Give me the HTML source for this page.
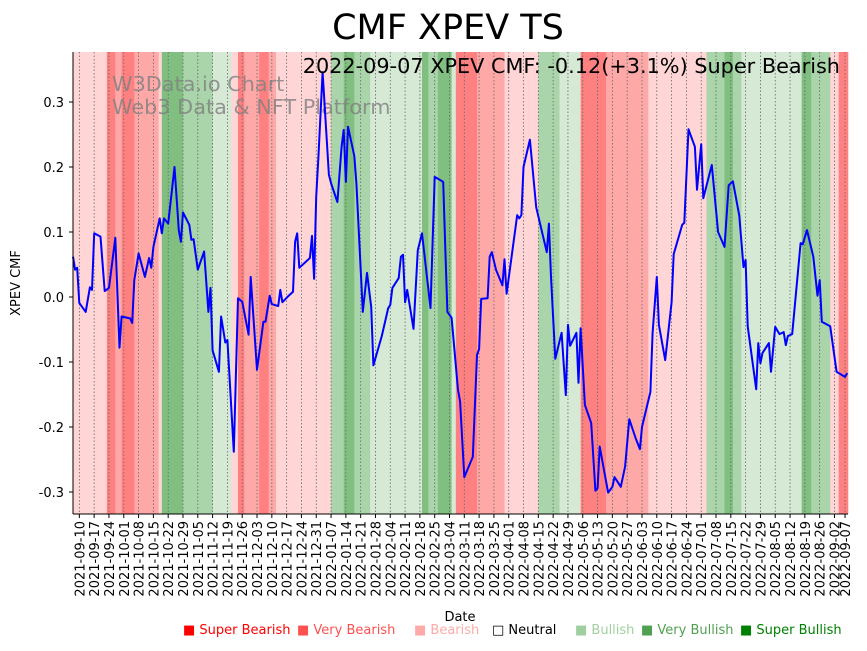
<!DOCTYPE html>
<html><head><meta charset="utf-8"><style>
body{margin:0;background:#fff;font-family:"Liberation Sans","DejaVu Sans",sans-serif;}
svg text{font-family:"DejaVu Sans","Liberation Sans",sans-serif;}
</style></head><body>
<svg id="c" width="867" height="646" xmlns="http://www.w3.org/2000/svg">
<g id="bands"></g>
<g id="grid"></g>
<text x="112" y="91" font-size="20.8" fill="#808080" fill-opacity="0.8">W3Data.io Chart</text>
<text x="112" y="114" font-size="20.8" fill="#808080" fill-opacity="0.8">Web3 Data &amp; NFT Platform</text>
<path id="line" fill="none" stroke="#0000ff" stroke-width="2" stroke-linejoin="round"/>
<text x="840" y="73" font-size="20.8" text-anchor="end" fill="#000">2022-09-07 XPEV CMF: -0.12(+3.1%) Super Bearish</text>
<text x="448" y="39" font-size="35" text-anchor="middle" fill="#000">CMF XPEV TS</text>
<line x1="73" y1="52" x2="73" y2="514" stroke="#000"/>
<line x1="73" y1="514" x2="848" y2="514" stroke="#000"/>
<g id="yt"></g>
<g id="xt"></g>
<text transform="translate(20,283) rotate(-90)" font-size="13" text-anchor="middle">XPEV CMF</text>
<text x="460" y="621" font-size="13" text-anchor="middle">Date</text>
<g id="legend"></g>
</svg>
<script>
const dayOffsets=[0,1,2,3,6,8,9,10,13,15,17,20,22,23,27,28,29,31,34,36,37,38,41,42,43,45,48,50,51,52,55,56,57,59,62,64,65,66,69,70,72,73,76,78,80,83,84,87,90,91,93,94,97,98,99,102,104,105,106,107,112,113,114,115,116,118,121,122,125,127,128,129,130,133,134,137,139,141,142,146,149,150,151,154,155,156,157,158,161,163,165,169,171,175,176,177,179,182,183,185,189,191,192,193,196,197,198,200,203,204,205,210,211,212,213,216,219,224,225,226,228,231,233,234,235,238,239,240,242,245,247,248,249,253,255,256,259,261,263,266,268,269,273,274,276,277,280,283,284,288,289,291,294,295,297,298,302,305,308,310,312,315,317,318,319,323,324,325,326,329,330,332,334,336,337,338,340,344,345,347,350,352,353,354,358,361,365,366];
const cmfValues=[0.062,0.042,0.045,-0.009,-0.023,0.015,0.011,0.098,0.093,0.009,0.014,0.091,-0.078,-0.03,-0.033,-0.04,0.026,0.067,0.031,0.06,0.045,0.077,0.121,0.098,0.121,0.113,0.2,0.103,0.085,0.13,0.111,0.088,0.089,0.042,0.07,-0.023,0.014,-0.082,-0.115,-0.03,-0.07,-0.066,-0.238,-0.002,-0.007,-0.058,0.031,-0.112,-0.038,-0.038,0.002,-0.011,-0.014,0.011,-0.008,0.002,0.008,0.085,0.098,0.045,0.06,0.094,0.028,0.154,0.215,0.346,0.188,0.175,0.146,0.231,0.257,0.177,0.262,0.217,0.175,-0.023,0.037,-0.015,-0.105,-0.06,-0.017,-0.012,0.014,0.029,0.062,0.065,-0.008,0.011,-0.049,0.072,0.098,-0.017,0.185,0.177,0.075,-0.023,-0.032,-0.143,-0.161,-0.277,-0.246,-0.089,-0.08,-0.003,-0.002,0.062,0.069,0.042,0.018,0.058,0.005,0.126,0.121,0.126,0.2,0.242,0.138,0.069,0.113,0.031,-0.095,-0.055,-0.151,-0.043,-0.075,-0.055,-0.132,-0.048,-0.166,-0.194,-0.298,-0.294,-0.23,-0.301,-0.292,-0.277,-0.292,-0.261,-0.188,-0.217,-0.234,-0.2,-0.146,-0.055,0.031,-0.043,-0.097,-0.008,0.066,0.111,0.114,0.258,0.231,0.165,0.235,0.152,0.203,0.1,0.077,0.172,0.178,0.125,0.046,0.057,-0.045,-0.142,-0.071,-0.102,-0.086,-0.071,-0.115,-0.046,-0.057,-0.054,-0.074,-0.06,-0.057,0.083,0.081,0.103,0.062,0.002,0.026,-0.038,-0.045,-0.115,-0.123,-0.117];
const bandStarts=[0,16,20,23,29,40.5,42,52,66,75,78,81,88,92.5,96,122,128,133,140.5,165,168,172.5,179,181,191,204,220,230,240,252,272,277,299.5,308,312,316,344.5,349,358,362];
const bandLevels=[-1,-3,-2,-3,-2,-1,3,2,1,-1,-3,-2,-3,-2,-1,2,3,2,1,3,2,3,1,-3,-2,-1,2,1,-3,-2,-1,-1,2,3,2,1,3,2,-1,-3];
const yTicks=[0.3,0.2,0.1,0.0,-0.1,-0.2,-0.3];
const xTickLabels=["2021-09-10","2021-09-17","2021-09-24","2021-10-01","2021-10-08","2021-10-15","2021-10-22","2021-10-29","2021-11-05","2021-11-12","2021-11-19","2021-11-26","2021-12-03","2021-12-10","2021-12-17","2021-12-24","2021-12-31","2022-01-07","2022-01-14","2022-01-21","2022-01-28","2022-02-04","2022-02-11","2022-02-18","2022-02-25","2022-03-04","2022-03-11","2022-03-18","2022-03-25","2022-04-01","2022-04-08","2022-04-15","2022-04-22","2022-04-29","2022-05-06","2022-05-13","2022-05-20","2022-05-27","2022-06-03","2022-06-10","2022-06-17","2022-06-24","2022-07-01","2022-07-08","2022-07-15","2022-07-22","2022-07-29","2022-08-05","2022-08-12","2022-08-19","2022-08-26","2022-09-02","2022-09-07"];
const legendLabels=["Super Bearish","Very Bearish","Bearish","Neutral","Bullish","Very Bullish","Super Bullish"];
const DAY_MAX=366.4, START=Date.UTC(2021,8,7);
const X=d=>73+(d/DAY_MAX)*775;
const Y=v=>297-v*650;
const NS="http://www.w3.org/2000/svg";
const bandColor={"-3":"#ff8080","-2":"#ffa8a8","-1":"#ffd5d5","0":"#ffffff","1":"#d5e9d5","2":"#aad4aa","3":"#80bf80"};
const mk=(t,a,p)=>{const e=document.createElementNS(NS,t);for(const k in a)e.setAttribute(k,a[k]);p.appendChild(e);return e;};
const bands=document.getElementById('bands');
bandStarts.forEach((s,i)=>{const e=i+1<bandStarts.length?bandStarts[i+1]:DAY_MAX;
 const r=mk('rect',{x:X(s),y:52,width:X(e)-X(s)+0.3,height:462,fill:bandColor[bandLevels[i]]},bands);
 
 });
let d='';const n=Math.min(dayOffsets.length,cmfValues.length);
for(let i=0;i<n;i++){d+=(i?'L':'M')+X(dayOffsets[i]).toFixed(1)+','+Y(cmfValues[i]).toFixed(1);}
document.getElementById('line').setAttribute('d',d);
const yt=document.getElementById('yt');
yTicks.forEach(v=>{mk('line',{x1:69,x2:73,y1:Y(v),y2:Y(v),stroke:'#000'},yt);
 const t=mk('text',{x:64,y:Y(v)+5,'font-size':13,'text-anchor':'end'},yt);t.textContent=v.toFixed(1);
 
 });
const xt=document.getElementById('xt'),grid=document.getElementById('grid');
xTickLabels.forEach(s=>{const p=s.split('-');const day=(Date.UTC(+p[0],+p[1]-1,+p[2])-START)/864e5;const x=X(day);
 mk('line',{x1:x,x2:x,y1:52,y2:514,stroke:'#666','stroke-width':0.8,'stroke-dasharray':'1.5,2'},grid);
 mk('line',{x1:x,x2:x,y1:514,y2:518,stroke:'#000'},xt);
 const t=mk('text',{transform:`translate(${x+5},521) rotate(-90)`,'font-size':13,'text-anchor':'end'},xt);t.textContent=s;
 
 });
const lg=document.getElementById('legend');
const legCol=["#ff0000","#ff5050","#ffaaaa","#000000","#a0d0a0","#50a050","#008000"];
const legX=[183,297,414,492,575,641,740];
legendLabels.forEach((l,i)=>{const t=mk('text',{x:legX[i],y:634,'font-size':13,fill:legCol[i]},lg);t.textContent=(i==3?'□ ':'■ ')+l;
 
 });
</script>
</body></html>
